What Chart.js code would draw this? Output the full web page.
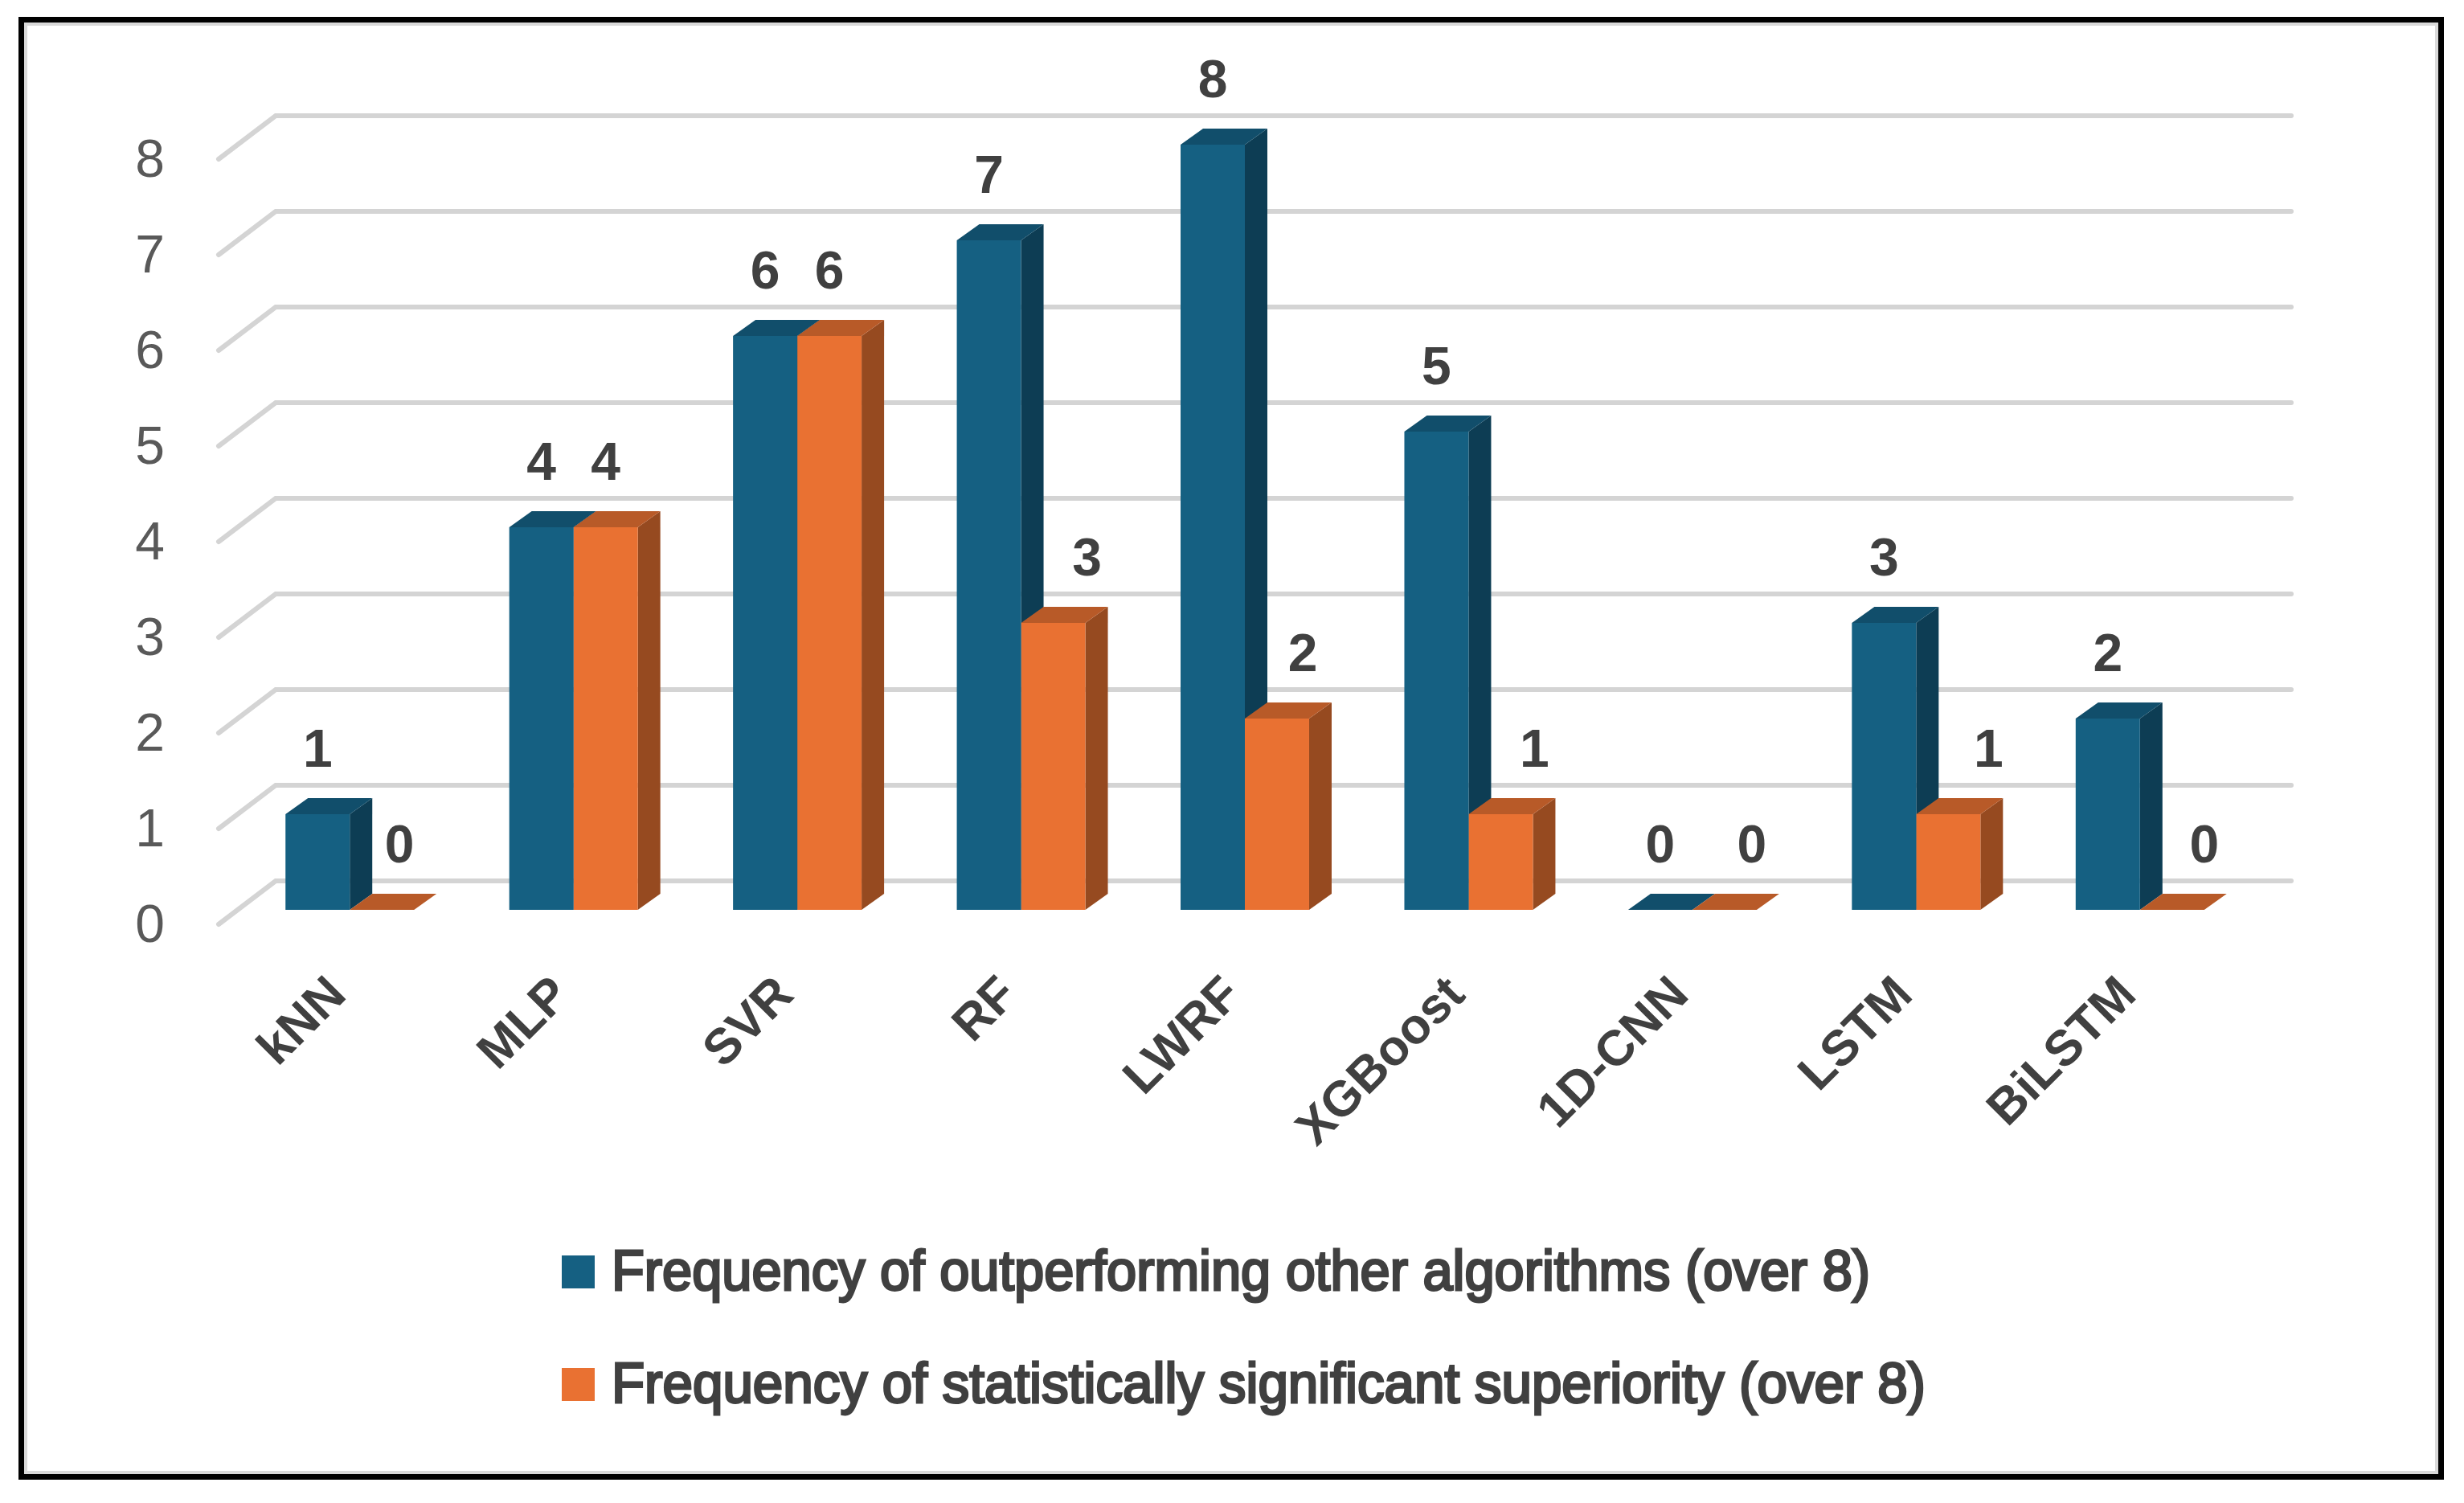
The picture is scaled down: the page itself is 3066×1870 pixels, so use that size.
<!DOCTYPE html>
<html>
<head>
<meta charset="utf-8">
<title>Algorithm frequency chart</title>
<script src="https://cdn.jsdelivr.net/npm/chart.js@4"></script>
<style>
    html, body { margin: 0; padding: 0; background: #fff; }
    #wrap { position: relative; width: 3066px; height: 1870px; }
    #frame { position: absolute; left: 23px; top: 21px; width: 3018px; height: 1820px; box-sizing: border-box;
             border: 7px solid #000; box-shadow: inset 3px 3px 0 1px #d9d9d9, inset -3px -3px 0 1px #d9d9d9; }
    canvas { position: absolute; left: 0; top: 0; }
</style>
</head>
<body>
<div id="wrap">
    <canvas id="freqChart" width="3066" height="1870"></canvas>
    <div id="frame"></div>
</div>
<script>
const categories = ['kNN', 'MLP', 'SVR', 'RF', 'LWRF', 'XGBoost', '1D-CNN', 'LSTM', 'BiLSTM'];
const outperforming = [1, 4, 6, 7, 8, 5, 0, 3, 2];
const significant = [0, 4, 6, 3, 2, 1, 0, 1, 0];
const yTicks = [0, 1, 2, 3, 4, 5, 6, 7, 8];
const seriesNames = [
    'Frequency of outperforming other algorithms (over 8)',
    'Frequency of statistically significant superiority (over 8)'
];

// the value labels of the lower bars sit to the right of the taller neighbour
const labelShift = [
    [0, 0, 0, 0, 0, 0, 0, 0, 0],
    [22, 0, 0, 42, 32, 42, 34, 50, 40]
];
const faceColors = [
    { side: '#0d3d54', top: '#114e6b' },
    { side: '#964a20', top: '#b85a28' }
];

const depth = { x: 28, y: 20 };
const wall = { backX: 47, backY: 36, frontX: 24, frontY: 18 };

const fakeDepth = {
    id: 'fakeDepth',
    beforeDatasetsDraw(chart) {
        const c = chart.ctx;
        const y = chart.scales.y;
        const area = chart.chartArea;
        c.save();
        c.strokeStyle = '#d4d4d4';
        c.lineCap = 'round';
        yTicks.forEach(v => {
            const py = y.getPixelForValue(v);
            c.lineWidth = 6;
            c.beginPath();
            c.moveTo(area.left - wall.frontX, py + wall.frontY);
            c.lineTo(area.left + wall.backX, py - wall.backY);
            c.lineTo(area.right + wall.backX + 2, py - wall.backY);
            c.stroke();
        });
        // side and top faces, blue first so the orange ones cover them
        chart.data.datasets.forEach((ds, i) => {
            const cols = faceColors[i];
            chart.getDatasetMeta(i).data.forEach(bar => {
                const l = bar.x - bar.width / 2;
                const r = bar.x + bar.width / 2;
                c.fillStyle = cols.side;
                c.beginPath();
                c.moveTo(r, bar.base);
                c.lineTo(r + depth.x, bar.base - depth.y);
                c.lineTo(r + depth.x, bar.y - depth.y);
                c.lineTo(r, bar.y);
                c.closePath();
                c.fill();
                c.fillStyle = cols.top;
                c.beginPath();
                c.moveTo(l, bar.y);
                c.lineTo(l + depth.x, bar.y - depth.y);
                c.lineTo(r + depth.x, bar.y - depth.y);
                c.lineTo(r, bar.y);
                c.closePath();
                c.fill();
            });
        });
        c.restore();
    },
    afterDatasetsDraw(chart) {
        const c = chart.ctx;
        c.save();
        c.font = 'bold 66px "Liberation Sans"';
        c.fillStyle = '#404040';
        c.textAlign = 'center';
        c.textBaseline = 'middle';
        chart.data.datasets.forEach((ds, i) => {
            chart.getDatasetMeta(i).data.forEach((bar, j) => {
                c.fillText(ds.data[j], bar.x + labelShift[i][j], bar.y - 77);
            });
        });
        c.restore();
    },
    afterDraw(chart) {
        // legend rows are left aligned, the built-in one centres them
        const c = chart.ctx;
        const rows = [1562, 1702];
        const textWidths = [1566, 1635];
        c.save();
        chart.data.datasets.forEach((ds, i) => {
            c.fillStyle = ds.backgroundColor;
            c.fillRect(699, rows[i], 41, 41);
            c.save();
            c.font = '70px "Liberation Sans"';
            c.fillStyle = '#404040';
            c.strokeStyle = '#404040';
            c.lineWidth = 3;
            c.textAlign = 'left';
            c.textBaseline = 'alphabetic';
            c.translate(761, rows[i] + 43);
            c.scale(textWidths[i] / c.measureText(ds.label).width, 1);
            c.fillText(ds.label, 0, 0);
            c.strokeText(ds.label, 0, 0);
            c.restore();
        });
        c.restore();
    }
};

const ctx = document.getElementById('freqChart').getContext('2d');
const freqChart = new Chart(ctx, {
    type: 'bar',
    data: {
        labels: categories,
        datasets: [{
            label: seriesNames[0],
            data: outperforming,
            backgroundColor: '#156082'
        }, {
            label: seriesNames[1],
            data: significant,
            backgroundColor: '#e97132'
        }]
    },
    options: {
        responsive: false,
        animation: false,
        devicePixelRatio: 1,
        categoryPercentage: 0.5745,
        barPercentage: 1,
        layout: {
            padding: { top: 180, right: 264, bottom: 0, left: 0 }
        },
        plugins: {
            legend: { display: false },
            tooltip: { enabled: false },
            title: { display: false }
        },
        scales: {
            x: {
                grid: { display: false, drawTicks: false },
                border: { display: false },
                ticks: {
                    autoSkip: false,
                    minRotation: 45,
                    maxRotation: 45,
                    padding: 70,
                    labelOffset: -14,
                    color: '#404040',
                    font: { family: '"Liberation Sans"', size: 62, weight: 'bold' }
                },
                afterFit: (scale) => { scale.height = 738; }
            },
            y: {
                min: 0,
                max: 8,
                grid: { display: false, drawTicks: false },
                border: { display: false },
                ticks: {
                    stepSize: 1,
                    padding: 91,
                    labelOffset: 22,
                    color: '#595959',
                    font: { family: '"Liberation Sans"', size: 66 }
                },
                afterFit: (scale) => { scale.width = 296; }
            }
        }
    },
    plugins: [fakeDepth]
});
</script>
</body>
</html>
